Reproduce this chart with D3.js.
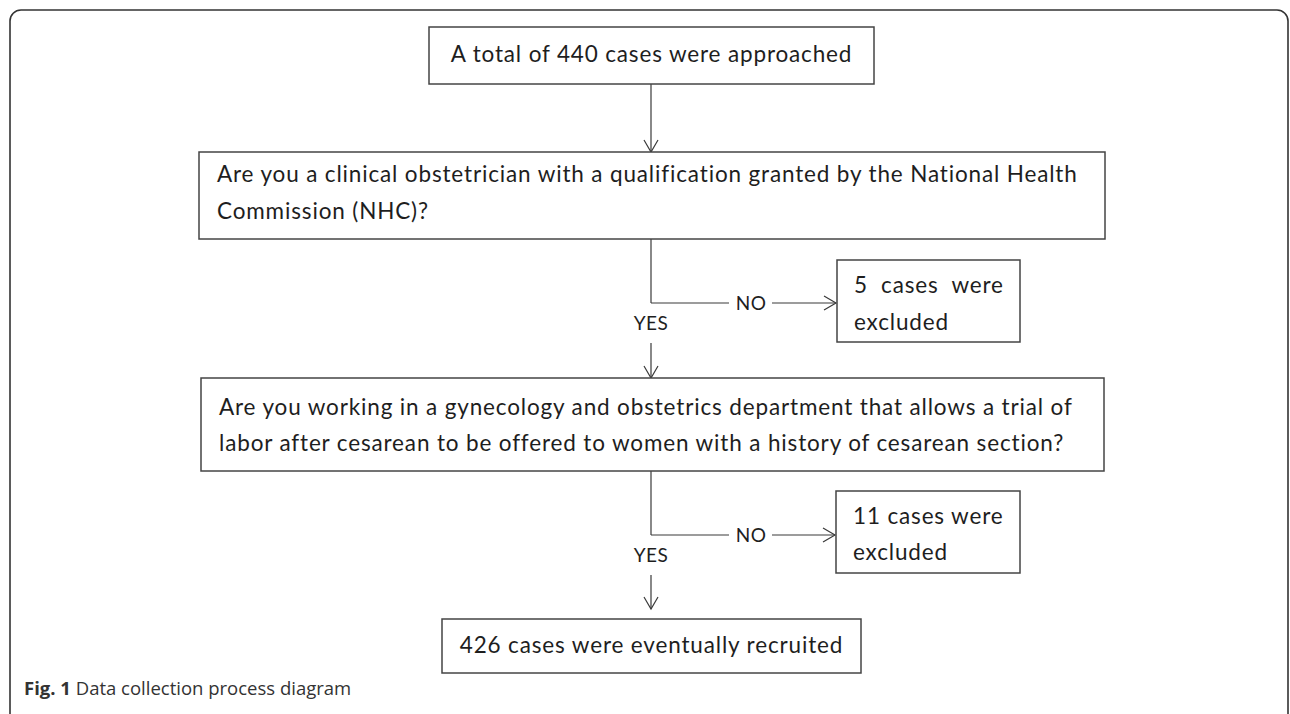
<!DOCTYPE html>
<html>
<head>
<meta charset="utf-8">
<script src="https://cdn.jsdelivr.net/npm/d3@7"></script>
<style>
  html, body { margin: 0; padding: 0; background: #fff; }
  svg { display: block; }
</style>
</head>
<body>
<div id="chart"></div>
<script>
// flow content
const stepTexts = [
  ['A total of 440 cases were approached'],
  ['Are you a clinical obstetrician with a qualification granted by the National Health',
   'Commission (NHC)?'],
  ['Are you working in a gynecology and obstetrics department that allows a trial of',
   'labor after cesarean to be offered to women with a history of cesarean section?'],
  ['426 cases were eventually recruited']
];
const exclusionTexts = [
  ['5  cases  were', 'excluded'],
  ['11 cases were', 'excluded']
];
const branchLabels = ['NO', 'YES'];
const captionBold = 'Fig. 1';
const captionText = ' Data collection process diagram';

const width = 1290;
const height = 714;
const axisX = 651;
const font = 'Lato, "Open Sans", sans-serif';
const ink = '#1e1e1e';
const lineCol = '#3a3a3a';

// box geometry for each step (main column) and each exclusion box
const stepBoxes = [
  { x0: 429, x1: 874, y0: 27, y1: 84, align: 'middle', lineY: [62] },
  { x0: 199, x1: 1105, y0: 152, y1: 239, align: 'start', tx: 217, lineY: [182, 219] },
  { x0: 201, x1: 1104, y0: 378, y1: 471, align: 'start', tx: 219, lineY: [415, 451] },
  { x0: 442, x1: 861, y0: 619, y1: 673, align: 'middle', lineY: [653] }
];
const exclBoxes = [
  { x0: 837, x1: 1020, y0: 260, y1: 342, tx: 854, lineY: [293, 330], branchY: 303 },
  { x0: 836, x1: 1020, y0: 491, y1: 573, tx: 853, lineY: [524, 560], branchY: 535 }
];

const svg = d3.select('#chart').append('svg')
  .attr('width', width)
  .attr('height', height);

// outer frame with rounded corners, open at the bottom
const r = 11;
const frame = d3.path();
frame.moveTo(10, height + 5);
frame.lineTo(10, 10 + r);
frame.arcTo(10, 10, 10 + r, 10, r);
frame.lineTo(1288 - r, 10);
frame.arcTo(1288, 10, 1288, 10 + r, r);
frame.lineTo(1288, height + 5);
svg.append('path')
  .attr('d', frame.toString())
  .attr('fill', 'none')
  .attr('stroke', '#333')
  .attr('stroke-width', 1.6);

function arrowHead(g, x, y, dir) {
  const h = 12, w = 7;
  const p = d3.path();
  if (dir === 'down') {
    p.moveTo(x - w, y - h); p.lineTo(x, y); p.lineTo(x + w, y - h);
  } else {
    p.moveTo(x - h, y - w); p.lineTo(x, y); p.lineTo(x - h, y + w);
  }
  g.append('path').attr('d', p.toString())
    .attr('fill', 'none').attr('stroke', lineCol).attr('stroke-width', 1.2);
}

function line(g, x1, y1, x2, y2) {
  g.append('line')
    .attr('x1', x1).attr('y1', y1).attr('x2', x2).attr('y2', y2)
    .attr('stroke', lineCol).attr('stroke-width', 1.2);
}

function drawBox(g, b, lines) {
  g.append('rect')
    .attr('x', b.x0).attr('y', b.y0)
    .attr('width', b.x1 - b.x0).attr('height', b.y1 - b.y0)
    .attr('fill', '#fff')
    .attr('stroke', '#444')
    .attr('stroke-width', 1.5);
  g.selectAll(null)
    .data(lines)
    .enter().append('text')
    .attr('x', b.align === 'middle' ? (b.x0 + b.x1) / 2 : b.tx)
    .attr('y', (d, i) => b.lineY[i])
    .attr('text-anchor', b.align || 'start')
    .attr('font-family', font)
    .attr('font-size', 22.5)
    .attr('letter-spacing', 0.85)
    .attr('fill', ink)
    .style('white-space', 'pre')
    .text(d => d);
}

function label(g, x, y, t) {
  g.append('text')
    .attr('x', x).attr('y', y)
    .attr('dy', '0.35em')
    .attr('text-anchor', 'middle')
    .attr('font-family', font).attr('font-size', 19)
    .attr('letter-spacing', 0.5)
    .attr('fill', ink)
    .text(t);
}

const links = svg.append('g').attr('class', 'links');
const boxes = svg.append('g').attr('class', 'boxes');

// step 1 -> step 2 straight arrow
line(links, axisX, stepBoxes[0].y1, axisX, stepBoxes[1].y0);
arrowHead(links, axisX, stepBoxes[1].y0, 'down');

// decision branches
exclBoxes.forEach((e, i) => {
  const from = stepBoxes[i + 1];
  const to = stepBoxes[i + 2];
  // down from the decision box to the branch level
  line(links, axisX, from.y1, axisX, e.branchY);
  // NO branch to the right
  line(links, axisX, e.branchY, 729, e.branchY);
  line(links, 772, e.branchY, e.x0 - 1, e.branchY);
  arrowHead(links, e.x0 - 1, e.branchY, 'right');
  label(links, 751, e.branchY, branchLabels[0]);
  // YES label and arrow down
  label(links, axisX, e.branchY + 20, branchLabels[1]);
  const tipY = i === exclBoxes.length - 1 ? to.y0 - 10 : to.y0;
  line(links, axisX, e.branchY + 40, axisX, tipY);
  arrowHead(links, axisX, tipY, 'down');
  drawBox(boxes, { x0: e.x0, x1: e.x1, y0: e.y0, y1: e.y1, tx: e.tx, lineY: e.lineY }, exclusionTexts[i]);
});

stepBoxes.forEach((b, i) => drawBox(boxes, b, stepTexts[i]));

// caption
const cap = svg.append('text')
  .attr('x', 24).attr('y', 695)
  .attr('font-family', '"Open Sans", sans-serif')
  .attr('font-size', 18.5)
  .attr('fill', '#333');
cap.append('tspan').attr('font-weight', 'bold').text(captionBold);
cap.append('tspan').style('white-space', 'pre').text(captionText);
</script>
</body>
</html>
